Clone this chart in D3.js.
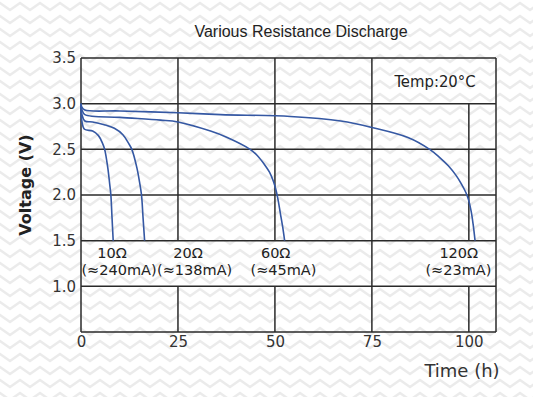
<!DOCTYPE html>
<html>
<head>
<meta charset="utf-8">
<script src="https://cdn.jsdelivr.net/npm/d3@7"></script>
<style>
  body { margin: 0; background: #fff; }
</style>
</head>
<body>
<div id="app"></div>
<script>
// discharge curves: [hours, volts]
const r10 = [[0, 2.98], [0.25, 2.8], [0.9, 2.72], [3, 2.7], [4.5, 2.65], [5.5, 2.57], [6.1, 2.5], [6.9, 2.3], [7.4, 2.12], [7.7, 2.0], [8.0, 1.75], [8.3, 1.5]];
const r20 = [[0, 3.0], [0.25, 2.88], [1, 2.81], [3, 2.8], [6, 2.77], [8.6, 2.73], [10.8, 2.66], [12.2, 2.57], [13.1, 2.5], [14.4, 2.3], [15.1, 2.14], [15.6, 2.0], [16.0, 1.75], [16.4, 1.5]];
const r60 = [[0, 3.0], [0.25, 2.93], [1, 2.88], [10, 2.85], [20.5, 2.82], [25, 2.8], [33.4, 2.7], [37.7, 2.63], [43.6, 2.5], [45.5, 2.43], [47.2, 2.34], [48.6, 2.25], [49.6, 2.15], [50.3, 2.05], [50.8, 1.95], [51.4, 1.8], [52, 1.65], [52.5, 1.5]];
const r120 = [[0, 3.0], [0.25, 2.96], [1, 2.93], [10, 2.92], [25, 2.9], [36, 2.88], [54, 2.86], [67, 2.81], [75, 2.74], [84.3, 2.63], [89.9, 2.5], [92.5, 2.41], [94.7, 2.32], [96.6, 2.22], [98.1, 2.12], [99.2, 2.03], [99.9, 1.95], [100.6, 1.82], [101.1, 1.68], [101.6, 1.5]];

const series = [r10, r20, r60, r120];
const resistLabels = ['10Ω', '20Ω', '60Ω', '120Ω'];
const currentLabels = ['(≈240mA)', '(≈138mA)', '(≈45mA)', '(≈23mA)'];

const xTicks = [0, 25, 50, 75, 100];
const yTicks = [1.0, 1.5, 2.0, 2.5, 3.0, 3.5];

const width = 533;
const height = 397;
const margin = { top: 58, right: 37, bottom: 65, left: 81 };
const w = width - margin.left - margin.right;
const h = height - margin.top - margin.bottom;

const svg = d3.select('#app').append('svg')
  .attr('width', width)
  .attr('height', height);

// zigzag background
const defs = svg.append('defs');
const pat = defs.append('pattern')
  .attr('id', 'zig')
  .attr('patternUnits', 'userSpaceOnUse')
  .attr('width', 20)
  .attr('height', 13);
pat.append('path')
  .attr('d', 'M-10,10 L0,3 L10,10 L20,3 L30,10')
  .attr('fill', 'none')
  .attr('stroke', '#ebebeb')
  .attr('stroke-width', 2.5);

svg.append('rect').attr('width', width).attr('height', height).attr('fill', '#fff');
svg.append('rect').attr('width', width).attr('height', height).attr('fill', 'url(#zig)');

const x = d3.scaleLinear().domain([0, 107]).range([0, w]);
const y = d3.scaleLinear().domain([0.5, 3.5]).range([h, 0]);

const g = svg.append('g').attr('transform', `translate(${margin.left},${margin.top})`);

const gridColor = '#2a2a2a';

// horizontal grid lines
g.selectAll('.hline')
  .data([0.5].concat(yTicks))
  .join('line')
  .attr('x1', 0).attr('x2', w)
  .attr('y1', d => y(d)).attr('y2', d => y(d))
  .attr('stroke', gridColor)
  .attr('stroke-width', 1.5);

// vertical grid lines (broken where the label band is)
const vSegs = [
  [0, 0.5, 3.5], [107, 0.5, 3.5], [75, 0.5, 3.5],
  [25, 1.5, 3.5], [25, 0.5, 1.0],
  [50, 1.5, 3.5], [50, 0.5, 1.0],
  [100, 1.5, 3.0], [100, 0.5, 1.0]
];
g.selectAll('.vline')
  .data(vSegs)
  .join('line')
  .attr('x1', d => x(d[0])).attr('x2', d => x(d[0]))
  .attr('y1', d => y(d[1])).attr('y2', d => y(d[2]))
  .attr('stroke', gridColor)
  .attr('stroke-width', 1.5);

// axes (labels only)
const axisY = d3.axisLeft(y).tickValues(yTicks).tickFormat(d3.format('.1f')).tickSize(0).tickPadding(5);
const axisYG = g.append('g').call(axisY);
axisYG.select('.domain').remove();
axisYG.selectAll('text')
  .attr('font-family', 'DejaVu Sans')
  .attr('font-size', 15)
  .attr('fill', '#333');

const axisX = d3.axisBottom(x).tickValues(xTicks).tickSize(0).tickPadding(4);
const axisXG = g.append('g').attr('transform', `translate(0,${h})`).call(axisX);
axisXG.select('.domain').remove();
axisXG.selectAll('text')
  .attr('font-family', 'DejaVu Sans')
  .attr('font-size', 15)
  .attr('fill', '#333');

// curves
const line = d3.line()
  .curve(d3.curveCatmullRom.alpha(0.5))
  .x(d => x(d[0]))
  .y(d => y(d[1]));

g.selectAll('.curve')
  .data(series)
  .join('path')
  .attr('d', line)
  .attr('fill', 'none')
  .attr('stroke', '#3558a3')
  .attr('stroke-width', 1.6);

// curve labels
const row1X = [8, 27.6, 50.2, 97.4];
const row2X = [9.8, 29.3, 52.2, 97.3];
g.selectAll('.rlab')
  .data(resistLabels)
  .join('text')
  .attr('x', (d, i) => x(row1X[i]))
  .attr('y', y(1.5) + 17)
  .attr('text-anchor', 'middle')
  .attr('font-family', 'DejaVu Sans')
  .attr('font-size', 14.5)
  .attr('fill', '#222')
  .text(d => d);
g.selectAll('.clab')
  .data(currentLabels)
  .join('text')
  .attr('x', (d, i) => x(row2X[i]))
  .attr('y', y(1.5) + 34)
  .attr('text-anchor', 'middle')
  .attr('font-family', 'DejaVu Sans')
  .attr('font-size', 14.5)
  .attr('fill', '#222')
  .text(d => d);

// temperature note
g.append('text')
  .attr('x', x(91.3))
  .attr('y', y(3.25) + 6)
  .attr('text-anchor', 'middle')
  .attr('font-family', 'DejaVu Sans Condensed, DejaVu Sans')
  .attr('font-stretch', 'condensed')
  .attr('font-size', 16.5)
  .attr('fill', '#222')
  .text('Temp:20°C');

// title and axis titles
svg.append('text')
  .attr('x', 301)
  .attr('y', 37)
  .attr('text-anchor', 'middle')
  .attr('font-family', 'Liberation Sans, Arial')
  .attr('font-size', 16)
  .attr('fill', '#222')
  .text('Various Resistance Discharge');

svg.append('text')
  .attr('transform', 'translate(31,185) rotate(-90)')
  .attr('text-anchor', 'middle')
  .attr('font-family', 'DejaVu Sans')
  .attr('font-weight', 'bold')
  .attr('font-size', 16)
  .attr('fill', '#222')
  .text('Voltage (V)');

svg.append('text')
  .attr('x', 462)
  .attr('y', 377)
  .attr('text-anchor', 'middle')
  .attr('font-family', 'DejaVu Sans')
  .attr('font-size', 18)
  .attr('fill', '#333')
  .text('Time (h)');
</script>
</body>
</html>
